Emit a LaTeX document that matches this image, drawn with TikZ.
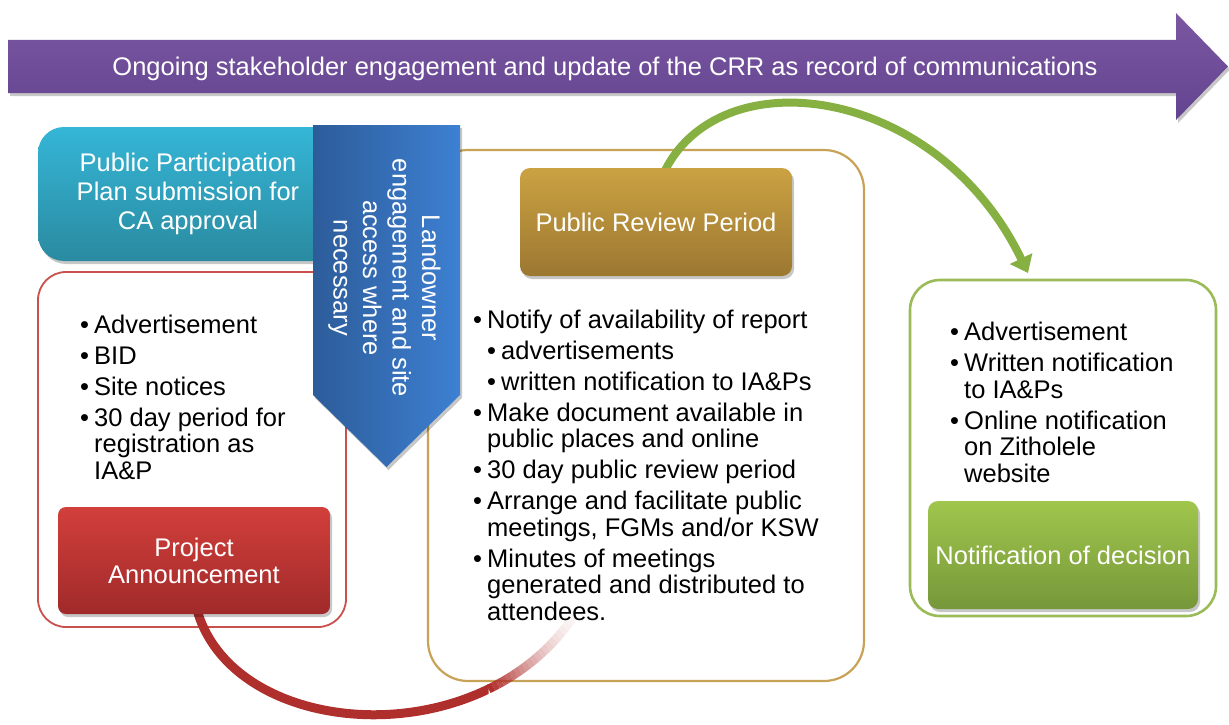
\documentclass[tikz,border=0pt]{standalone}
\usepackage{fontspec}
\setmainfont{Liberation Sans}
\usetikzlibrary{arrows.meta,shadows}

\definecolor{purT}{HTML}{7B57A1}
\definecolor{purB}{HTML}{634490}
\definecolor{cyT}{HTML}{35B6D7}
\definecolor{cyB}{HTML}{2A8AA0}
\definecolor{rdT}{HTML}{D23F3B}
\definecolor{rdB}{HTML}{A02A2A}
\definecolor{gdT}{HTML}{CBA242}
\definecolor{gdB}{HTML}{9C7731}
\definecolor{grT}{HTML}{A0C64C}
\definecolor{grB}{HTML}{76973A}
\definecolor{blL}{HTML}{2D5C9A}
\definecolor{blR}{HTML}{3D80D2}
\definecolor{rdLine}{HTML}{C9504D}
\definecolor{gdLine}{HTML}{C8A257}
\definecolor{grLine}{HTML}{9BBB59}
\definecolor{arcRed}{HTML}{AF2F2D}
\definecolor{arcGreen}{HTML}{86B042}

\newcommand{\bul}{\makebox[14pt][l]{\textbullet}}
\newcommand{\ind}{\hspace*{14pt}}
\newcommand{\subind}{\hspace*{14pt}}

\begin{document}
\begin{tikzpicture}[x=1pt,y=-1pt,
  font=\fontsize{25.5}{26.5}\selectfont,
  shad/.style={drop shadow={shadow xshift=2pt,shadow yshift=-3pt,opacity=0.22,fill=black}},
  hdr/.style={shad, text=white, align=center, inner sep=0pt, rounded corners=10pt},
  outl/.style={fill=white, rounded corners=#1, line width=2.2pt, inner sep=0pt},
  lst/.style={anchor=base west, align=left, inner sep=0pt, text=black},
  redarc/.style={arcRed, line width=9pt}]

\useasboundingbox (0,0) rectangle (1229,725);

% title arrow
\path[shad, top color=purT, bottom color=purB]
  (8,40) -- (1176,40) -- (1176,13) -- (1228,66.5) -- (1176,120) -- (1176,93) -- (8,93) -- cycle;
\node[text=white, inner sep=0pt] (title) at (605,68.5)
  {Ongoing stakeholder engagement and update of the CRR as record of communications};

% cyan header
\node[hdr, rounded corners=26pt, top color=cyT, bottom color=cyB,
  minimum width=300pt, minimum height=134pt,
  font=\fontsize{25.5}{29}\selectfont] (ppp) at (188,194)
  {Public Participation\\Plan submission for\\CA approval};

% outline boxes
\node[outl=28pt, draw=rdLine, line width=1.8pt, minimum width=308pt, minimum height=355pt] (rbox) at (192,449.5) {};
\node[outl=40pt, draw=gdLine, minimum width=436pt, minimum height=531pt] (gbox) at (646,415.5) {};
\node[outl=30pt, draw=grLine, line width=2.6pt, minimum width=306pt, minimum height=336pt] (nbox) at (1063,448) {};

% red arc: solid part, then a fading tail made of short segments
\coordinate (rs) at (196,606);
\coordinate (re) at (585,597);
\foreach \i in {0,...,26} {
  \pgfmathsetmacro\tpos{0.74+0.01*\i}
  \path (rs) .. controls (230,745) and (500,760) .. (re) coordinate[pos=\tpos] (p\i);
}
\begin{scope}
  \clip (0,0) rectangle (p0 |- 0,725);
  \draw[redarc] (rs) .. controls (230,745) and (500,760) .. (re);
\end{scope}
\foreach \i [evaluate=\i as \j using int(\i+1), evaluate=\i as \op using (1-\i/26)^2] in {0,...,25} {
  \draw[redarc, opacity=\op] (p\i) -- (p\j);
}

% project announcement
\node[hdr, rounded corners=8pt, top color=rdT, bottom color=rdB,
  minimum width=272pt, minimum height=107pt,
  font=\fontsize{25.5}{27}\selectfont] (proj) at (194,560.5)
  {Project\\Announcement};

% green arc
\coordinate (gs) at (660,182);
\coordinate (ge) at (1028,273);
\draw[arcGreen, line width=8pt, -{Triangle[length=16pt,width=24pt]}]
  (gs) .. controls (708,55) and (935,80) .. (ge);

% public review period
\node[hdr, top color=gdT, bottom color=gdB,
  minimum width=272pt, minimum height=108pt] (prp) at (656,222)
  {Public Review Period};

% notification of decision
\node[hdr, top color=grT, bottom color=grB,
  minimum width=270pt, minimum height=108pt] (nod) at (1063,555)
  {Notification of decision};

% blue down arrow
\path[shad, left color=blL, right color=blR]
  (313,125) -- (460,125) -- (460,395) -- (386.5,467) -- (313,395) -- cycle;
\node[rotate=-90, text=white, align=center, inner sep=0pt,
  font=\fontsize{25.5}{29.5}\selectfont] (land) at (384.5,278)
  {Landowner\\engagement and site\\access where\\necessary};

% lists (base anchor = baseline of last line)
\node[lst] (rlist) at (80,479)
  {\bul Advertisement\\[4.5pt]
   \bul BID\\[4.5pt]
   \bul Site notices\\[4.5pt]
   \bul 30 day period for\\
   \ind registration as\\
   \ind IA\&P};

\node[lst] (glist) at (473,620)
  {\bul Notify of availability of report\\[4.5pt]
   \subind\bul advertisements\\[4.5pt]
   \subind\bul written notification to IA\&Ps\\[4.5pt]
   \bul Make document available in\\
   \ind public places and online\\[4.5pt]
   \bul 30 day public review period\\[4.5pt]
   \bul Arrange and facilitate public\\
   \ind meetings, FGMs and/or KSW\\[4.5pt]
   \bul Minutes of meetings\\
   \ind generated and distributed to\\
   \ind attendees.};

\node[lst] (nlist) at (950,482)
  {\bul Advertisement\\[4.5pt]
   \bul Written notification\\
   \ind to IA\&Ps\\[4.5pt]
   \bul Online notification\\
   \ind on Zitholele\\
   \ind website};

\end{tikzpicture}
\end{document}
